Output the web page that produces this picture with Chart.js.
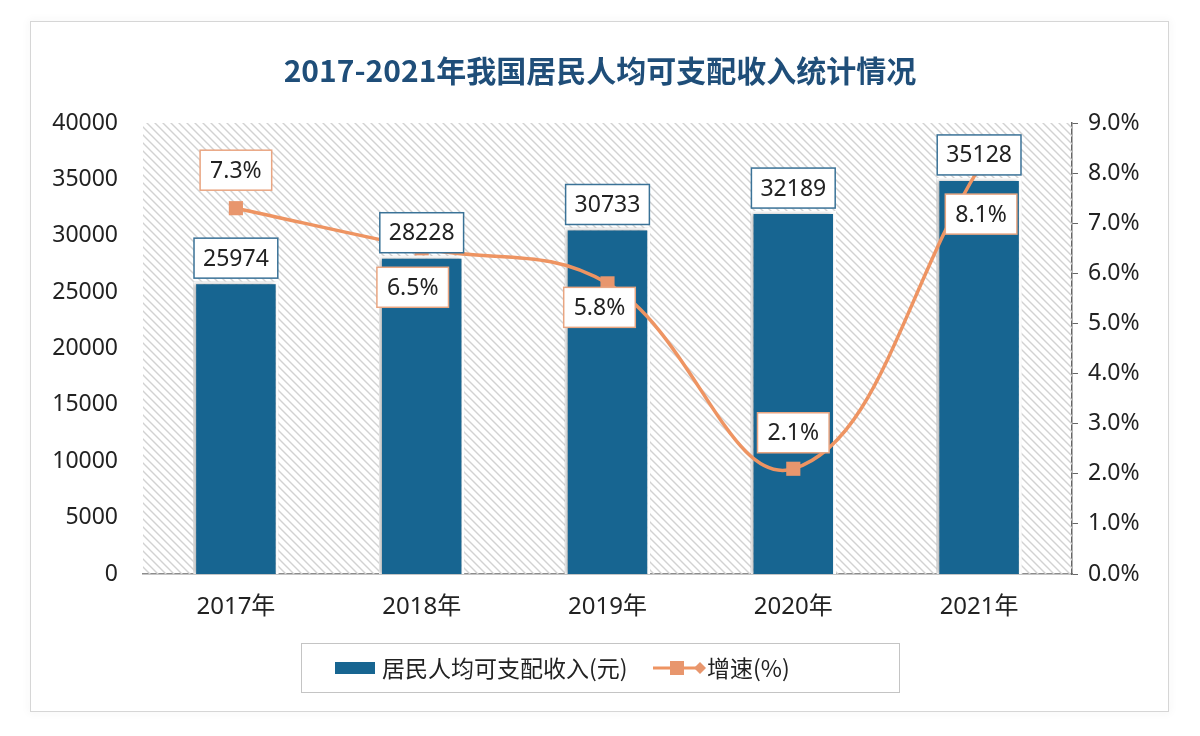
<!DOCTYPE html>
<html>
<head>
<meta charset="utf-8">
<script src="https://cdn.jsdelivr.net/npm/chart.js@4"></script>
<style>
  body { margin: 0; background: #fff; }
  #wrap { width: 1200px; height: 736px; }
</style>
</head>
<body>
<div id="wrap"><canvas id="incomeChart" width="1200" height="736"></canvas></div>
<script>
// data
const years = ['2017年', '2018年', '2019年', '2020年', '2021年'];
const income = [25974, 28228, 30733, 32189, 35128];
const growth = [7.3, 6.5, 5.8, 2.1, 8.1];

const barColor = '#176591';
const lineColor = '#ee9462';

// where each growth label sits relative to its point
const growthLabelDx = [0, -9, -8, 0, 2];
const growthLabelDy = [-38, 39, 24, -36, 46];

// hatched plot background
function makeHatch() {
  const c = document.createElement('canvas');
  c.width = 8; c.height = 8;
  const g = c.getContext('2d');
  g.strokeStyle = '#d2d2d2';
  g.lineWidth = 1.4;
  g.beginPath();
  g.moveTo(0, 0); g.lineTo(8, 8);
  g.moveTo(-4, 4); g.lineTo(4, 12);
  g.moveTo(4, -4); g.lineTo(12, 4);
  g.stroke();
  return c;
}

function labelBox(ctx, text, cx, cy, border, padX) {
  ctx.font = '23px "Noto Sans", sans-serif';
  const w = ctx.measureText(text).width + padX * 2;
  const h = 40;
  ctx.fillStyle = '#fff';
  ctx.fillRect(cx - w / 2, cy - h / 2, w, h);
  ctx.strokeStyle = border;
  ctx.lineWidth = 1.5;
  ctx.strokeRect(cx - w / 2, cy - h / 2, w, h);
  ctx.fillStyle = '#222';
  ctx.textAlign = 'center';
  ctx.textBaseline = 'middle';
  ctx.fillText(text, cx, cy + 1);
}

const framePlugin = {
  id: 'frame',
  beforeDraw(chart) {
    const ctx = chart.ctx;
    ctx.save();
    ctx.fillStyle = '#fff';
    ctx.fillRect(0, 0, chart.width, chart.height);
    ctx.shadowColor = 'rgba(0,0,0,0.18)';
    ctx.shadowBlur = 8;
    ctx.strokeStyle = '#d6d6d6';
    ctx.lineWidth = 1;
    ctx.strokeRect(30.5, 21.5, 1138, 690);
    ctx.shadowColor = 'transparent';
    ctx.fillStyle = '#fff';
    ctx.fillRect(31, 22, 1137, 689);
    ctx.restore();
  },
  beforeDatasetsDraw(chart) {
    const a = chart.chartArea;
    const ctx = chart.ctx;
    ctx.save();
    ctx.fillStyle = ctx.createPattern(makeHatch(), 'repeat');
    ctx.fillRect(a.left, a.top, a.right - a.left, a.bottom - a.top);
    ctx.restore();
  },
  beforeDatasetDraw(chart, args) {
    if (args.index === 0) {
      const ctx = chart.ctx;
      ctx.save();
      ctx.shadowColor = 'rgba(0,0,0,0.3)';
      ctx.shadowBlur = 4;
      ctx.shadowOffsetX = -2;
    }
  },
  afterDatasetDraw(chart, args) {
    if (args.index === 0) chart.ctx.restore();
  },
  afterDatasetsDraw(chart) {
    const ctx = chart.ctx;
    ctx.save();
    chart.getDatasetMeta(0).data.forEach((bar, i) => {
      labelBox(ctx, String(income[i]), bar.x, bar.y - 3 - 20, '#3a7297', 9);
    });
    chart.getDatasetMeta(1).data.forEach((pt, i) => {
      labelBox(ctx, growth[i].toFixed(1) + '%', pt.x + growthLabelDx[i], pt.y + growthLabelDy[i], '#e9a581', 10);
    });
    ctx.restore();
  },
  afterDraw(chart) {
    // legend box
    const ctx = chart.ctx;
    ctx.save();
    ctx.strokeStyle = '#c4c4c4';
    ctx.lineWidth = 1;
    ctx.strokeRect(301.5, 643.5, 598, 49);
    ctx.fillStyle = barColor;
    ctx.fillRect(335, 662, 40, 12);
    ctx.font = '23px "Noto Sans CJK SC", sans-serif';
    ctx.fillStyle = '#222';
    ctx.textBaseline = 'middle';
    ctx.textAlign = 'left';
    ctx.fillText('居民人均可支配收入(元)', 382, 668);
    ctx.strokeStyle = lineColor;
    ctx.lineWidth = 3;
    ctx.beginPath();
    ctx.moveTo(653, 668); ctx.lineTo(700, 668);
    ctx.stroke();
    ctx.fillStyle = '#e8966d';
    ctx.fillRect(670, 661, 14, 14);
    ctx.beginPath();
    ctx.moveTo(700, 662); ctx.lineTo(706, 668); ctx.lineTo(700, 674); ctx.lineTo(694, 668);
    ctx.closePath();
    ctx.fill();
    ctx.fillStyle = '#222';
    ctx.fillText('增速(%)', 707, 668);
    ctx.restore();
  }
};

const ctx = document.getElementById('incomeChart').getContext('2d');

new Chart(ctx, {
  type: 'bar',
  data: {
    labels: years,
    datasets: [
      {
        type: 'bar',
        label: '居民人均可支配收入(元)',
        data: income,
        backgroundColor: barColor,
        borderColor: '#ffffff',
        borderWidth: 3,
        borderSkipped: 'bottom',
        barPercentage: 0.46,
        categoryPercentage: 1,
        yAxisID: 'y',
        order: 1
      },
      {
        type: 'line',
        label: '增速(%)',
        data: growth,
        borderColor: lineColor,
        backgroundColor: '#e8966d',
        borderWidth: 3.5,
        tension: 0.4,
        pointStyle: 'rect',
        pointRadius: 10,
        pointBorderWidth: 0,
        yAxisID: 'y1',
        order: 0
      }
    ]
  },
  options: {
    responsive: false,
    animation: false,
    layout: { padding: { top: 20, left: 0, right: 0, bottom: 0 } },
    scales: {
      x: {
        grid: { display: false, drawTicks: false },
        border: { display: true, color: '#8c8c8c', width: 1.5 },
        ticks: { color: '#222', padding: 19, font: { family: '"Noto Sans", "Noto Sans CJK SC", sans-serif', size: 24 } },
        afterFit(scale) { scale.height = 162; }
      },
      y: {
        position: 'left',
        min: 0,
        max: 40000,
        ticks: {
          stepSize: 5000,
          color: '#222',
          padding: 25,
          font: { family: '"Noto Sans", sans-serif', size: 23 },
          callback: v => String(v)
        },
        grid: { display: false, drawTicks: false },
        border: { display: false },
        afterFit(scale) { scale.width = 143; }
      },
      y1: {
        position: 'right',
        min: 0,
        max: 9,
        ticks: {
          stepSize: 1,
          color: '#222',
          padding: 10,
          font: { family: '"Noto Sans", sans-serif', size: 23 },
          callback: v => v.toFixed(1) + '%'
        },
        grid: { drawOnChartArea: false, drawTicks: true, tickLength: 6, color: '#666' },
        border: { display: true, color: '#666', width: 1.5 },
        afterFit(scale) { scale.width = 128; }
      }
    },
    plugins: {
      legend: { display: false },
      tooltip: { enabled: false },
      title: {
        display: true,
        text: '2017-2021年我国居民人均可支配收入统计情况',
        color: '#1f4e79',
        font: { family: '"Noto Sans CJK SC", sans-serif', size: 30, weight: 'bold' },
        padding: { top: 33, bottom: 34 }
      }
    }
  },
  plugins: [framePlugin]
});
</script>
</body>
</html>
